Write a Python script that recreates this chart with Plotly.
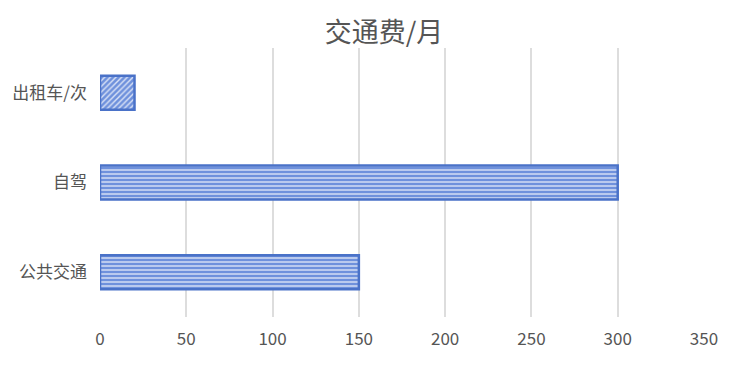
import plotly.graph_objects as go

categories = ["公共交通", "自驾", "出租车/次"]
values = [150, 300, 20]
patterns = ["-", "-", "/"]
x_ticks = [0, 50, 100, 150, 200, 250, 300, 350]

fig = go.Figure(go.Bar(
    y=categories, x=values, orientation="h", width=0.38,
    marker=dict(
        color="#6f91dc",
        line=dict(color="#4a72c8", width=2.5),
        pattern=dict(shape=patterns, fgcolor="rgba(255,255,255,0.75)", bgcolor="#6f91dc",
                     size=4, solidity=0.35, fillmode="replace"),
    ),
))

fig.update_layout(
    width=730, height=378,
    margin=dict(l=99, r=24, t=48, b=61),
    paper_bgcolor="white", plot_bgcolor="white",
    font=dict(family="Noto Sans CJK SC", color="#555555", size=17),
    title=dict(text="交通费/月", x=0.526, xanchor="center", xref="container",
               yref="container", y=0.915, yanchor="middle",
               font=dict(size=27, color="#555555")),
    showlegend=False,
    xaxis=dict(range=[0, 350], tickvals=x_ticks, showgrid=True, gridcolor="#dddddd",
               gridwidth=1.5, zeroline=False, showline=False, ticks="",
               ticklabelstandoff=10, tickfont=dict(size=17)),
    yaxis=dict(showgrid=False, zeroline=False, showline=False, ticks="",
               ticklabelstandoff=12, tickfont=dict(size=17)),
)

fig.write_html("out.html")
